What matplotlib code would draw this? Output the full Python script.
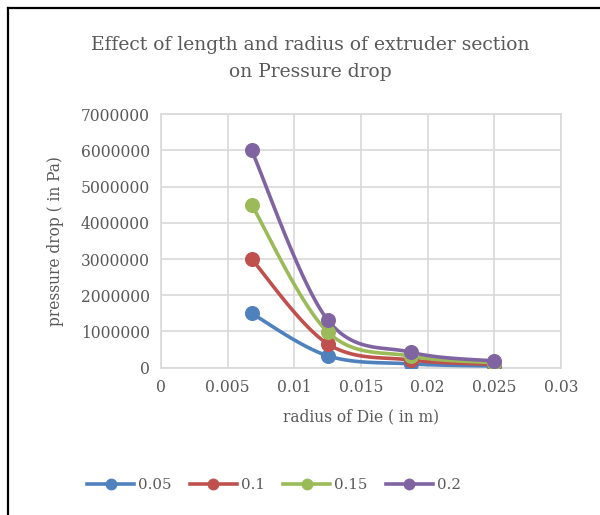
import numpy as np
import matplotlib
matplotlib.use("Agg")
import matplotlib.pyplot as plt
from matplotlib.lines import Line2D

# radius of die (m) and pressure drop (Pa) for each length
radius = [0.0068, 0.0125, 0.01875, 0.025]
lengths = ["0.05", "0.1", "0.15", "0.2"]
dp_005 = [1500000, 330000, 106000, 46000]
dp_010 = [3000000, 660000, 212000, 92000]
dp_015 = [4500000, 990000, 318000, 138000]
dp_020 = [6000000, 1320000, 425000, 185000]
series = [dp_005, dp_010, dp_015, dp_020]
colors = ["#4F81BD", "#C0504D", "#9BBB59", "#8064A2"]

txt = "#595959"
grid_c = "#D9D9D9"
plt.rcParams['font.family'] = ['DejaVu Serif']


def smooth(x, y, n=40):
    # excel-like smoothing: catmull-rom through bezier segments
    p = np.column_stack([x, y]).astype(float)
    pts = np.vstack([p[0], p, p[-1]])
    out = []
    t = np.linspace(0, 1, n)[:, None]
    for i in range(1, len(pts) - 2):
        p0, p1, p2, p3 = pts[i - 1], pts[i], pts[i + 1], pts[i + 2]
        c1 = p1 + (p2 - p0) / 6
        c2 = p2 - (p3 - p1) / 6
        seg = ((1 - t) ** 3) * p1 + 3 * ((1 - t) ** 2) * t * c1 + 3 * (1 - t) * t ** 2 * c2 + t ** 3 * p2
        out.append(seg if i == 1 else seg[1:])
    out = np.vstack(out)
    return out[:, 0], out[:, 1]


fig = plt.figure(figsize=(6, 5.15), dpi=100)
ax = fig.add_axes([161 / 600, 1 - 367.7 / 515, 400 / 600, 253.4 / 515])

for vals, c in zip(series, colors):
    sx, sy = smooth(radius, vals)
    ax.plot(sx, sy, color=c, lw=2.6, solid_capstyle="round", zorder=3)
    ax.plot(radius, vals, "o", color=c, ms=9.8, zorder=4)

ax.set_xlim(0, 0.03)
ax.set_ylim(0, 7000000)
ax.set_xticks(np.arange(0, 0.0301, 0.005))
ax.set_xticklabels(["0", "0.005", "0.01", "0.015", "0.02", "0.025", "0.03"])
ax.set_yticks(np.arange(0, 7000001, 1000000))
ax.set_yticklabels([str(v) for v in range(0, 7000001, 1000000)])
ax.grid(True, color=grid_c, lw=1.2)
ax.set_axisbelow(True)
for s in ax.spines.values():
    s.set_color(grid_c)
    s.set_linewidth(1.2)
ax.tick_params(length=0, labelsize=11.2, colors=txt, pad=8)

ax.set_xlabel("radius of Die ( in m)", fontsize=11.2, color=txt, labelpad=9)
ax.set_ylabel("pressure drop ( in Pa)", fontsize=11.2, color=txt, labelpad=12)

fig.text(310 / 600, 1 - 58.5 / 515, "Effect of length and radius of extruder section\non Pressure drop",
         ha="center", va="center", fontsize=13.5, color=txt, linespacing=1.65)

handles = [Line2D([], [], color=c, lw=2.6, marker="o", ms=7.5) for c in colors]
fig.legend(handles, lengths, loc="center", bbox_to_anchor=(274 / 600, 1 - 485 / 515),
           ncol=4, frameon=False, fontsize=10.8, labelcolor=txt, handlelength=3.1,
           handletextpad=0.27, columnspacing=1.25)

# chart border (left and top edges visible)
fig.add_artist(Line2D([8 / 600, 8 / 600], [0, 1 - 8 / 515], color="black", lw=1.6,
                      transform=fig.transFigure))
fig.add_artist(Line2D([8 / 600, 1], [1 - 8 / 515, 1 - 8 / 515], color="black", lw=1.6,
                      transform=fig.transFigure))

fig.savefig("out.png", dpi=100, facecolor="white")
